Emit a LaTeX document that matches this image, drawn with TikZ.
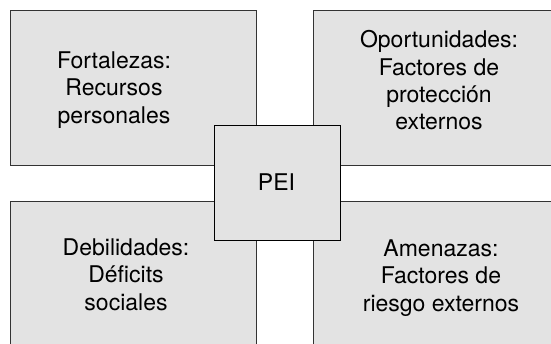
\documentclass[tikz,border=0pt]{standalone}
\usepackage{fontspec}
\setmainfont{TeX Gyre Heros}
\definecolor{boxgray}{HTML}{E3E3E3}
\begin{document}
\begin{tikzpicture}[x=1pt,y=-1pt,
  quadrant/.style={draw=black!80,fill=boxgray,line width=1pt,rectangle,minimum width=246pt,minimum height=155pt,inner sep=0pt},
  pei/.style={draw=black,fill=boxgray,line width=1pt,rectangle,minimum width=126pt,minimum height=115pt,inner sep=0pt},
  boxtext/.style={align=center,inner sep=0pt,anchor=north,font=\fontsize{23}{27.3}\selectfont}]
\useasboundingbox (0,0) rectangle (551,344);
\clip (0,0) rectangle (551,344);
% four quadrants
\node[quadrant] (fort) at (133,88.5) {};
\node[quadrant] (opor) at (436,88.5) {};
\node[quadrant] (debil) at (133,279.5) {};
\node[quadrant] (amen) at (436,279.5) {};
\node[boxtext] (forttext) at (114,51.5) {Fortalezas:\\Recursos\\personales};
\node[boxtext] (oportext) at (439,30.5) {Oportunidades:\\Factores de\\protección\\externos};
\node[boxtext] (debiltext) at (126,238.5) {Debilidades:\\Déficits\\sociales};
\node[boxtext] (amentext) at (441,239.5) {Amenazas:\\Factores de\\riesgo externos};
% centre
\node[pei] (peibox) at (277,183.5) {};
\node[anchor=base,inner sep=0pt,font=\fontsize{23}{27.3}\selectfont] (peitext) at (276.5,190.7) {PEI};
\end{tikzpicture}
\end{document}
